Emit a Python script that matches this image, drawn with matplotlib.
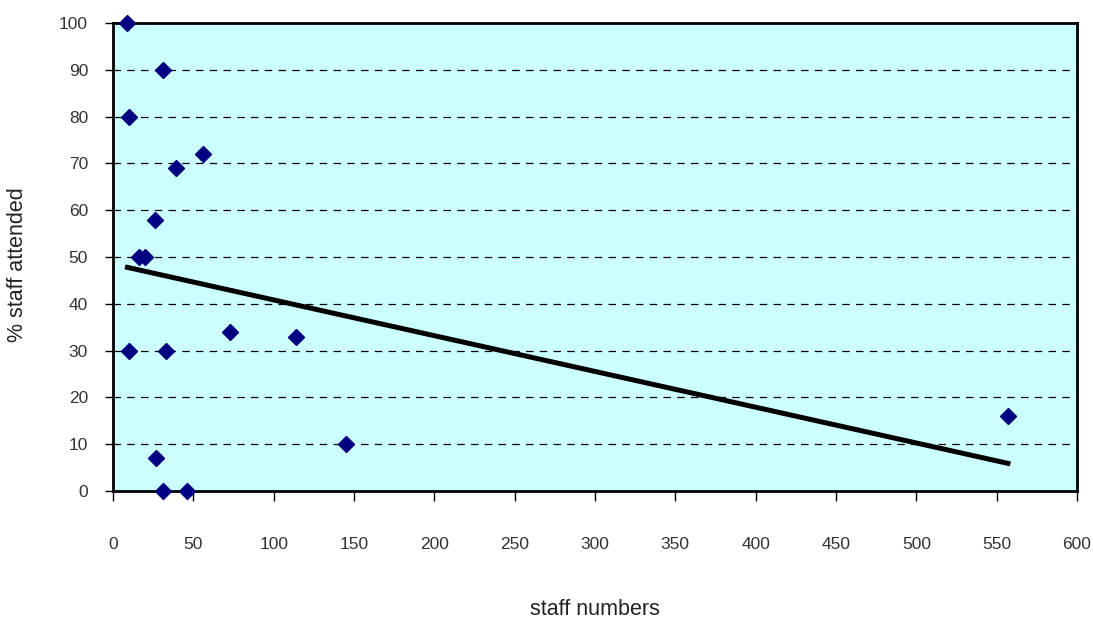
import numpy as np
import matplotlib
matplotlib.use('Agg')
import matplotlib.pyplot as plt

# values
staff_numbers = [9, 31, 10, 56, 39, 26, 16, 20, 73, 114, 10, 33, 27, 31, 46, 145, 557]
pct_attended = [100, 90, 80, 72, 69, 58, 50, 50, 34, 33, 30, 30, 7, 0, 0, 10, 16]

x_ticks = list(range(0, 601, 50))
y_ticks = list(range(0, 101, 10))

plt.rcParams['font.family'] = ['Liberation Sans', 'DejaVu Sans']

fig = plt.figure(figsize=(10.93, 6.22), dpi=100)
ax = fig.add_axes([113 / 1093, 1 - 491 / 622, 964 / 1093, 468 / 622])
ax.set_facecolor('#CCFFFF')

# linear trendline
x = np.array(staff_numbers, dtype=float)
y = np.array(pct_attended, dtype=float)
slope, intercept = np.polyfit(x, y, 1)
xs = np.array([x.min(), x.max()])

for yv in y_ticks[1:-1]:
    ax.axhline(yv, color='black', lw=0.9, dashes=(6, 5), zorder=1)

ax.plot(xs, slope * xs + intercept, color='black', lw=3.6, zorder=2)
ax.plot(staff_numbers, pct_attended, linestyle='none', marker='D', ms=8.5,
        color='#000080', markeredgecolor='#000080', zorder=3, clip_on=False)

ax.set_xlim(0, 600)
ax.set_ylim(0, 100)
ax.set_xticks(x_ticks)
ax.set_yticks(y_ticks)
for s in ax.spines.values():
    s.set_linewidth(2)
    s.set_color('black')
ax.tick_params(axis='x', length=7, width=1, pad=26, labelsize=12.5, labelcolor='#333333')
ax.tick_params(axis='y', length=6, width=1, pad=12, labelsize=12.5, labelcolor='#333333')

ax.set_xlabel('staff numbers', fontsize=15.5, color='#222222')
ax.xaxis.set_label_coords(0.5, -0.254)
ax.xaxis.label.set_va('center')
ax.set_ylabel('% staff attended', fontsize=15.5, color='#222222')
ax.yaxis.set_label_coords(-0.099, 0.483)
ax.yaxis.label.set_va('center')

fig.savefig('out.png', dpi=100)
